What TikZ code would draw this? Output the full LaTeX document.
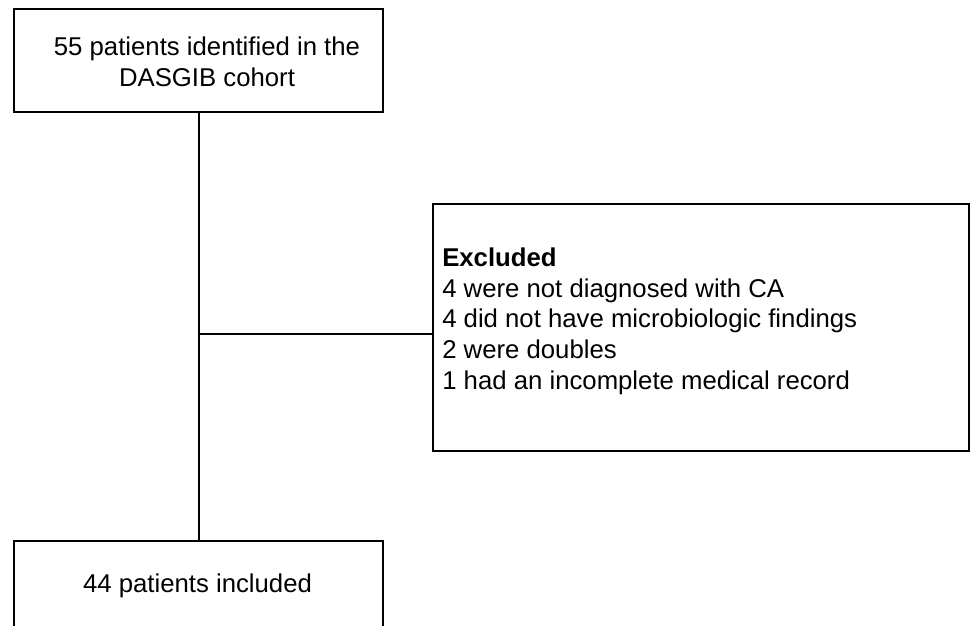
\documentclass[tikz,border=0pt]{standalone}
\usepackage{fontspec}
\setmainfont{Liberation Sans}
\begin{document}
\begin{tikzpicture}[x=0.75pt,y=-0.75pt,
  box/.style={draw=black, line width=1.8pt, rectangle, inner sep=0pt, anchor=north west},
  txt/.style={font=\fontsize{19.3}{22.9}\selectfont, inner sep=0pt},
  link/.style={line width=1.8pt}]
\useasboundingbox (0,0) rectangle (970,625);
\clip (0,0) rectangle (970,625);
\node[box, minimum width=276.75pt, minimum height=77.25pt] (top) at (13,8) {};
\node[box, minimum width=402pt, minimum height=185.25pt] (excl) at (432,203) {};
\node[box, minimum width=276.75pt, minimum height=75pt] (bot) at (13,540) {};
\node[txt, align=center, anchor=base] (toptext) at (207,86) {55 patients identified in the\\DASGIB cohort};
\node[txt, align=left, anchor=base west] (excltext) at (442,389) {\textbf{Excluded}\\4 were not diagnosed with CA\\4 did not have microbiologic findings\\2 were doubles\\1 had an incomplete medical record};
\node[txt, anchor=base] (bottext) at (197.5,592.7) {44 patients included};
\draw[link] (top.south) -- (bot.north);
\coordinate (j) at (197.5,334);
\draw[link] (j) -- (j -| excl.west);
\end{tikzpicture}
\end{document}
